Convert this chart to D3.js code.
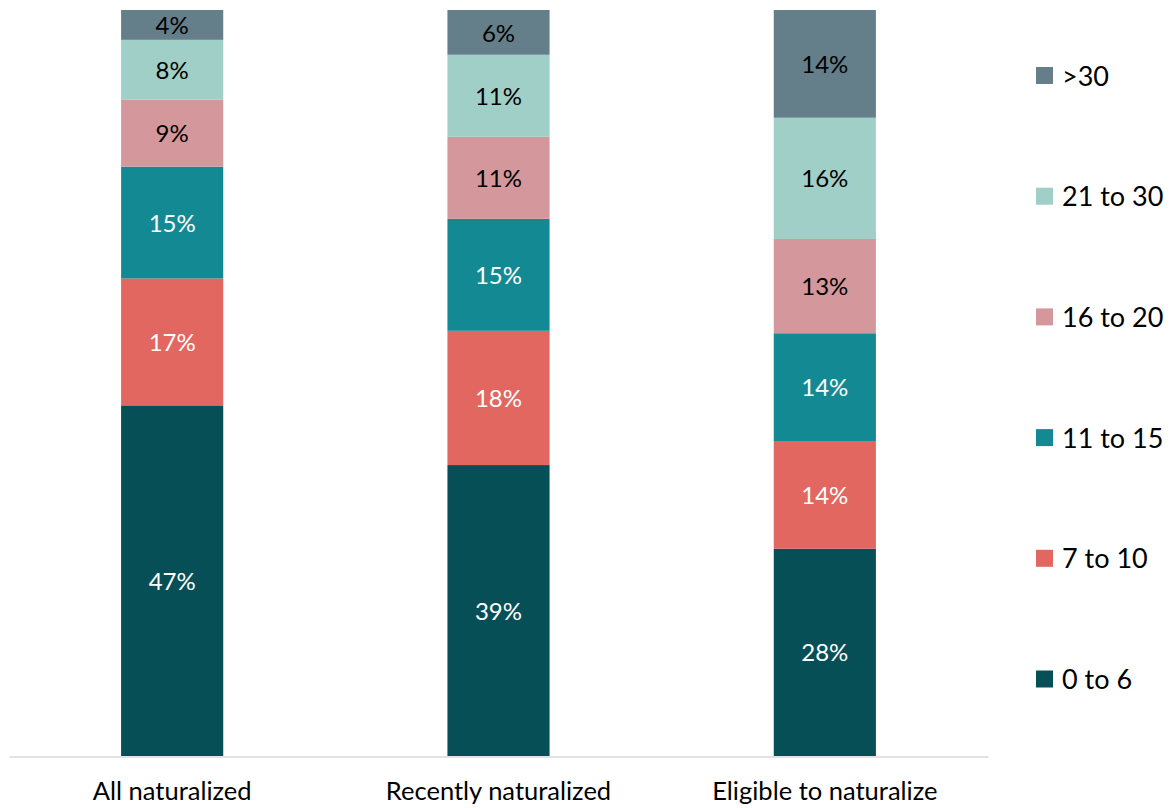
<!DOCTYPE html>
<html>
<head>
<meta charset="utf-8">
<script src="https://cdn.jsdelivr.net/npm/d3@7"></script>
<style>
  body { margin: 0; background: #fff; }
  svg text { font-family: Lato, "Open Sans", sans-serif; }
</style>
</head>
<body>
<div id="chart"></div>
<script>
let width = 1171
let height = 808

// data
let categories = ["All naturalized", "Recently naturalized", "Eligible to naturalize"]
let seriesKeys = ["0 to 6", "7 to 10", "11 to 15", "16 to 20", "21 to 30", ">30"]
let v0to6 = [47, 39, 27.7]
let v7to10 = [17, 18, 14.4]
let v11to15 = [15, 15, 14.4]
let v16to20 = [9, 11, 12.6]
let v21to30 = [8, 11, 16.2]
let vOver30 = [4, 6, 14.4]
let colors = ["#064f56", "#e26760", "#138a93", "#d4979c", "#a0cfc7", "#657f8a"]
let darkText = [false, false, false, true, true, true]

let seriesValues = [v0to6, v7to10, v11to15, v16to20, v21to30, vOver30]

let table = categories.map(function (c, i) {
    let row = { category: c }
    seriesKeys.forEach(function (k, j) { row[k] = seriesValues[j][i] })
    return row
})

let margin = { top: 10, right: 183, bottom: 52, left: 9 }
let plotW = width - margin.left - margin.right
let plotH = height - margin.top - margin.bottom

let svg = d3.select("#chart").append("svg")
    .attr("width", width)
    .attr("height", height)

let g = svg.append("g")
    .attr("transform", "translate(" + margin.left + "," + margin.top + ")")

let stack = d3.stack().keys(seriesKeys).offset(d3.stackOffsetExpand)
let stacked = stack(table)

let xScale = d3.scaleBand()
    .domain(categories)
    .range([0, plotW])
    .paddingInner(0.687)
    .paddingOuter(0.3435)

let yScale = d3.scaleLinear()
    .domain([0, 1])
    .range([plotH, 0])

let zScale = d3.scaleOrdinal().domain(seriesKeys).range(colors)

let layers = g.selectAll("g.layer")
    .data(stacked)
    .enter().append("g")
    .attr("class", "layer")
    .attr("fill", function (d) { return zScale(d.key) })

layers.selectAll("rect")
    .data(function (d) { return d })
    .enter().append("rect")
    .attr("x", function (d) { return xScale(d.data.category) })
    .attr("y", function (d) { return yScale(d[1]) })
    .attr("width", xScale.bandwidth())
    .attr("height", function (d) { return yScale(d[0]) - yScale(d[1]) })

// value labels
stacked.forEach(function (layer, li) {
    g.selectAll(null)
        .data(layer)
        .enter().append("text")
        .attr("x", function (d) { return xScale(d.data.category) + xScale.bandwidth() / 2 })
        .attr("y", function (d) { return (yScale(d[0]) + yScale(d[1])) / 2 })
        .attr("dy", "0.38em")
        .attr("text-anchor", "middle")
        .attr("font-size", "24px")
        .attr("fill", darkText[li] ? "#000" : "#fff")
        .text(function (d) { return Math.round(d.data[layer.key]) + "%" })
})

// x axis
let xAxis = g.append("g")
    .attr("transform", "translate(0," + (plotH + 0.5) + ")")
    .call(d3.axisBottom(xScale).tickSize(0).tickPadding(25))
xAxis.select(".domain").attr("stroke", "#d9d9d9").attr("stroke-width", 1.3)
xAxis.selectAll("text")
    .attr("font-size", "25.5px")
    .attr("fill", "#000")
    .style("font-family", "Lato, 'Open Sans', sans-serif")

// legend
let legendKeys = seriesKeys.slice().reverse()
let legend = svg.append("g")
    .attr("transform", "translate(1036,67)")
let item = legend.selectAll("g")
    .data(legendKeys)
    .enter().append("g")
    .attr("transform", function (d, i) { return "translate(0," + (i * 120.7) + ")" })
item.append("rect")
    .attr("width", 17)
    .attr("height", 17)
    .attr("fill", function (d) { return zScale(d) })
item.append("text")
    .attr("x", 26)
    .attr("y", 8.5)
    .attr("dy", "0.37em")
    .attr("font-size", "27px")
    .attr("fill", "#000")
    .text(function (d) { return d })
</script>
</body>
</html>
